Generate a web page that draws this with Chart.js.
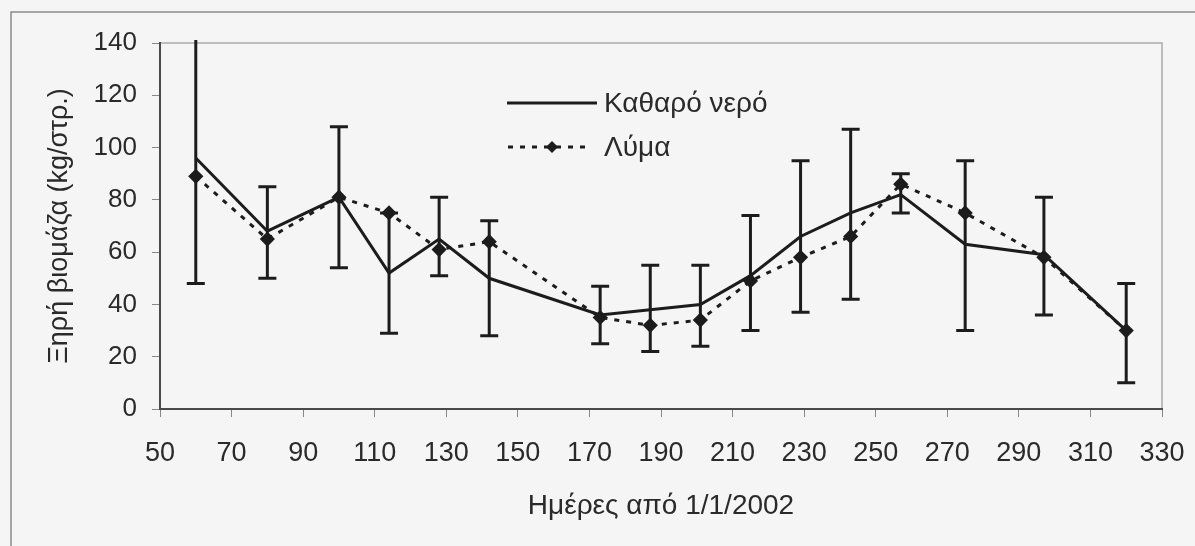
<!DOCTYPE html>
<html>
<head>
<meta charset="utf-8">
<script src="https://cdn.jsdelivr.net/npm/chart.js@4/dist/chart.umd.min.js"></script>
<style>
  html, body { margin: 0; padding: 0; background: #f5f5f5; }
  canvas { display: block; }
</style>
</head>
<body>
<canvas id="chart" width="1195" height="546"></canvas>
<script>
// days since 1/1/2002
const days = [60, 80, 100, 114, 128, 142, 173, 187, 201, 215, 229, 243, 257, 275, 297, 320];
const cleanWater = [96, 68, 81, 52, 65, 50, 36, 38, 40, 51, 66, 75, 82, 63, 59, 30];
const sewage = [89, 65, 81, 75, 61, 64, 35, 32, 34, 49, 58, 66, 86, 75, 58, 30];
// error bars (clean water series)
const errLow = [48, 50, 54, 29, 51, 28, 25, 22, 24, 30, 37, 42, 75, 30, 36, 10];
const errHigh = [145, 85, 108, 75, 81, 72, 47, 55, 55, 74, 95, 107, 90, 95, 81, 48];
const seriesNames = ['Καθαρό νερό', 'Λύμα'];
const xTitle = 'Ημέρες από 1/1/2002';
const yTitle = 'Ξηρή βιομάζα (kg/στρ.)';

const INK = '#1c1c1c';
const TEXT = '#2a2a2a';
const FONT = "'Liberation Sans', Arial, sans-serif";

const toPoints = (ys) => days.map((d, i) => ({ x: d, y: ys[i] }));

const framePlugin = {
  id: 'frame',
  beforeDraw(chart) {
    const { ctx, width, height, chartArea } = chart;
    ctx.save();
    ctx.fillStyle = '#f5f5f5';
    ctx.fillRect(0, 0, width, height);
    // outer frame
    ctx.strokeStyle = '#8a8a8a';
    ctx.lineWidth = 1.5;
    ctx.beginPath();
    ctx.moveTo(11, height);
    ctx.lineTo(11, 12);
    ctx.lineTo(width, 12);
    ctx.stroke();
    // plot area top / right border
    ctx.strokeStyle = '#aaaaaa';
    ctx.lineWidth = 1.5;
    ctx.beginPath();
    ctx.moveTo(chartArea.left, chartArea.top);
    ctx.lineTo(chartArea.right, chartArea.top);
    ctx.lineTo(chartArea.right, chartArea.bottom);
    ctx.stroke();
    ctx.restore();
  }
};

const errorBarPlugin = {
  id: 'errorBars',
  afterDatasetsDraw(chart) {
    const { ctx, chartArea, scales } = chart;
    const x = scales.x, y = scales.y;
    ctx.save();
    ctx.beginPath();
    ctx.rect(chartArea.left, chartArea.top - 3, chartArea.right - chartArea.left, chartArea.bottom - chartArea.top + 3);
    ctx.clip();
    ctx.strokeStyle = INK;
    ctx.lineWidth = 3;
    days.forEach((d, i) => {
      const px = x.getPixelForValue(d);
      const lo = y.getPixelForValue(errLow[i]);
      const hi = y.getPixelForValue(errHigh[i]);
      ctx.beginPath();
      ctx.moveTo(px, lo);
      ctx.lineTo(px, hi);
      ctx.moveTo(px - 9, lo);
      ctx.lineTo(px + 9, lo);
      if (errHigh[i] <= y.max) {
        ctx.moveTo(px - 9, hi);
        ctx.lineTo(px + 9, hi);
      }
      ctx.stroke();
    });
    ctx.restore();
  }
};

const legendPlugin = {
  id: 'insideLegend',
  afterDraw(chart) {
    const { ctx, chartArea } = chart;
    const x0 = chartArea.left + 347;
    const y0 = chartArea.top + 60;
    const gap = 44;
    ctx.save();
    ctx.font = '28px ' + FONT;
    ctx.fillStyle = TEXT;
    ctx.textBaseline = 'middle';
    ctx.strokeStyle = INK;
    ctx.lineWidth = 3;
    // solid
    ctx.beginPath();
    ctx.moveTo(x0, y0);
    ctx.lineTo(x0 + 90, y0);
    ctx.stroke();
    ctx.fillText(chart.data.datasets[0].label, x0 + 97, y0 + 1);
    // dashed with diamond
    const y1 = y0 + gap;
    ctx.setLineDash([5, 7]);
    ctx.beginPath();
    ctx.moveTo(x0 + 1, y1);
    ctx.lineTo(x0 + 80, y1);
    ctx.stroke();
    ctx.setLineDash([]);
    const cx = x0 + 45;
    ctx.fillStyle = INK;
    ctx.beginPath();
    ctx.moveTo(cx, y1 - 6);
    ctx.lineTo(cx + 6, y1);
    ctx.lineTo(cx, y1 + 6);
    ctx.lineTo(cx - 6, y1);
    ctx.closePath();
    ctx.fill();
    ctx.fillStyle = TEXT;
    ctx.fillText(chart.data.datasets[1].label, x0 + 97, y1 + 1);
    ctx.restore();
  }
};

new Chart(document.getElementById('chart'), {
  type: 'line',
  data: {
    datasets: [
      {
        label: seriesNames[0],
        data: toPoints(cleanWater),
        borderColor: INK,
        borderWidth: 3,
        pointRadius: 0,
        tension: 0
      },
      {
        label: seriesNames[1],
        data: toPoints(sewage),
        borderColor: INK,
        borderWidth: 3,
        borderDash: [5, 7],
        pointStyle: 'rectRot',
        pointRadius: 5.5,
        pointBackgroundColor: INK,
        pointBorderColor: INK,
        tension: 0
      }
    ]
  },
  options: {
    responsive: false,
    animation: false,
    layout: { padding: { top: 43, right: 33, left: 0, bottom: 0 } },
    plugins: {
      legend: { display: false },
      tooltip: { enabled: false }
    },
    scales: {
      x: {
        type: 'linear',
        min: 50,
        max: 330,
        afterFit: (s) => { s.height = 137; s.paddingLeft = 0; s.paddingRight = 0; },
        ticks: { stepSize: 20, color: TEXT, font: { family: FONT, size: 27 }, padding: 20, maxRotation: 0 },
        grid: { drawOnChartArea: false, drawTicks: true, tickLength: 8, color: '#888' },
        border: { color: '#4a4a4a', width: 2 },
        title: { display: true, text: xTitle, color: TEXT, font: { family: FONT, size: 28 }, padding: { top: 0, bottom: 23 } }
      },
      y: {
        min: 0,
        max: 140,
        afterFit: (s) => { s.width = 160; },
        ticks: { stepSize: 20, color: TEXT, font: { family: FONT, size: 26 }, padding: 15 },
        grid: { drawOnChartArea: false, drawTicks: true, tickLength: 8, color: '#888' },
        border: { color: '#4a4a4a', width: 2 },
        title: { display: true, text: yTitle, color: TEXT, font: { family: FONT, size: 27 }, padding: { top: 43, bottom: 0 } }
      }
    }
  },
  plugins: [framePlugin, errorBarPlugin, legendPlugin]
});
</script>
</body>
</html>
